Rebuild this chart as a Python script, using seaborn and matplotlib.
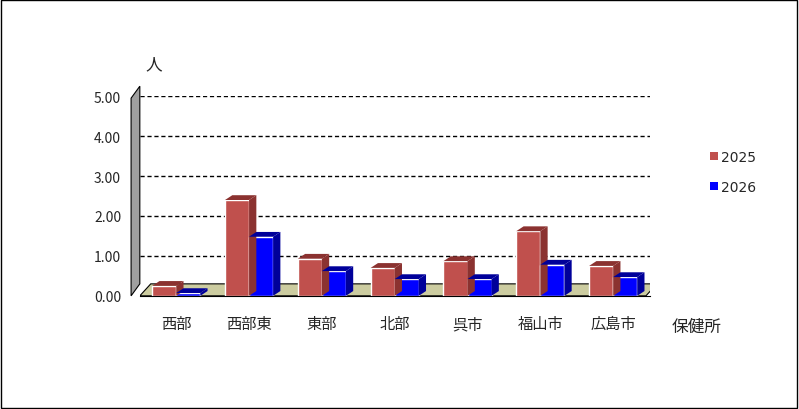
import matplotlib
matplotlib.use("Agg")
import matplotlib.pyplot as plt
import seaborn as sns
import pandas as pd
from matplotlib.patches import Polygon, Rectangle

categories = ["西部", "西部東", "東部", "北部", "呉市", "福山市", "広島市"]
v2025 = [0.25, 2.40, 0.93, 0.70, 0.87, 1.62, 0.75]
v2026 = [0.07, 1.48, 0.62, 0.42, 0.42, 0.78, 0.47]
series = ["2025", "2026"]

sns.set_style("white")
plt.rcParams['font.family'] = ['Noto Sans CJK JP', 'DejaVu Sans']

df = pd.DataFrame({"保健所": categories * 2, "人": v2025 + v2026,
                   "年": ["2025"] * 7 + ["2026"] * 7})

fig = plt.figure(figsize=(7.99, 4.10), dpi=100)
fig.patches.append(Rectangle((0.001, 0.002), 0.997, 0.995, transform=fig.transFigure,
                             fill=False, edgecolor="black", lw=1))
ax = fig.add_axes([0.175, 0.276, 0.638, 0.487])
colors = {"2025": "#C0504D", "2026": "#0000FF"}
dark = {"2025": "#8B3230", "2026": "#00009A"}
sns.barplot(data=df, x="保健所", y="人", hue="年", palette=colors, ax=ax,
            width=0.66, gap=0.0, legend=False, saturation=1)
ax.set_ylim(0, 5)
ax.set_xlim(-0.5, 6.5)
for y in [1, 2, 3, 4, 5]:
    ax.axhline(y, xmin=0.0, color="black", ls=(0, (3, 2)), lw=1, zorder=0)
dx, dy = 0.1, 0.12
for i, p in enumerate(ax.patches):
    s = series[i // 7]
    x0, w, h = p.get_x(), p.get_width(), p.get_height()
    ax.add_patch(Polygon([(x0, h), (x0 + dx, h + dy), (x0 + w + dx, h + dy), (x0 + w, h)],
                         closed=True, facecolor=dark[s], edgecolor="none", zorder=3))
    ax.add_patch(Polygon([(x0 + w, 0), (x0 + w + dx, dy), (x0 + w + dx, h + dy), (x0 + w, h)],
                         closed=True, facecolor=dark[s], edgecolor="none", zorder=3))
# floor
ax.add_patch(Polygon([(-0.5, 0), (-0.35, 0.3), (6.6, 0.3), (6.45, 0)], closed=True,
                     facecolor="#CCCCA0", edgecolor="black", lw=0.8, zorder=0.5))
# gray left wall
ax.add_patch(Polygon([(-0.62, 0), (-0.5, 0.3), (-0.5, 5.25), (-0.62, 4.95)], closed=True,
                     facecolor="#A0A0A0", edgecolor="black", lw=0.8, zorder=0.5, clip_on=False))
ax.set_yticks([0, 1, 2, 3, 4, 5])
ax.set_yticklabels([f"{v:.2f}" for v in [0, 1, 2, 3, 4, 5]], fontsize=10)
ax.tick_params(axis="y", pad=10)
ax.tick_params(axis="x", labelsize=11, length=0, pad=14)
ax.set_xlabel("")
ax.set_ylabel("")
for sp in ["top", "right", "left"]:
    ax.spines[sp].set_visible(False)
ax.spines["bottom"].set_color("black")
fig.text(0.193, 0.83, "人", fontsize=12, ha="center")
fig.text(0.872, 0.19, "保健所", fontsize=12, ha="center")
for j, s in enumerate(series):
    yy = 0.615 - j * 0.073
    fig.patches.append(Rectangle((0.888, yy - 0.008), 0.01, 0.02, transform=fig.transFigure,
                                 facecolor=colors[s], edgecolor="none"))
    fig.text(0.903, yy, s, fontsize=10, va="center", family="DejaVu Sans")
fig.savefig("out.png", dpi=100)
